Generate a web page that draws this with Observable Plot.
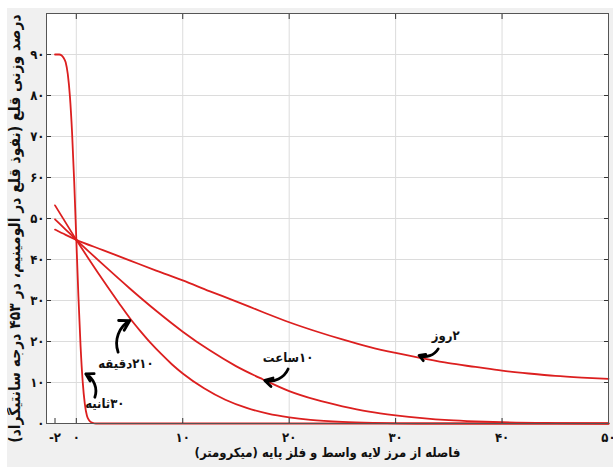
<!DOCTYPE html>
<html><head><meta charset="utf-8">
<script src="https://cdn.jsdelivr.net/npm/d3@7"></script>
<script src="https://cdn.jsdelivr.net/npm/@observablehq/plot@0.6"></script>
<style>
html,body{margin:0;padding:0;background:#fff;}
#chart{position:absolute;left:7px;top:8px;}
#chart svg text{font-stretch:condensed;}
</style></head><body><div id="chart"></div>
<script>
// ---- data ----
const sec30X = [-2, -1.6, -1.4, -1.2, -1.0, -0.8, -0.6, -0.4, -0.2, 0, 0.2, 0.4, 0.6, 0.8, 1.0, 1.2, 1.4, 1.7, 2, 50];
const sec30Y = [90, 90, 89.8, 89.2, 88.1, 85.2, 79.8, 71.1, 59.1, 45, 30.9, 18.9, 10.2, 4.8, 1.9, 0.8, 0.3, 0.05, 0, 0];

const min210X = [-2, -1, 0, 1, 2, 3, 4, 5, 6, 7, 8, 9, 10, 12, 14, 16, 18, 20, 22, 25, 28, 32, 50];
const min210Y = [53.2, 49, 44.8, 40.8, 36.9, 33.1, 29.4, 25.8, 22.6, 19.6, 16.9, 14.4, 12.2, 8.6, 5.8, 3.8, 2.4, 1.5, 0.9, 0.4, 0.15, 0, 0];

const hr10X = [-2, -1, 0, 2.5, 5, 7.5, 10, 12.5, 15, 17.5, 20, 22.5, 25, 27.5, 30, 32.5, 35, 37.5, 40, 45, 50];
const hr10Y = [49.8, 47.3, 44.8, 38.8, 33.0, 27.5, 22.4, 17.9, 14.0, 10.8, 7.9, 5.8, 4.2, 2.9, 2.0, 1.3, 0.8, 0.5, 0.3, 0.1, 0];

const day2X = [-2, -1, 0, 2.5, 5, 7.5, 10, 12.5, 15, 17.5, 20, 22.5, 25, 27.5, 30, 32.5, 35, 37.5, 40, 42.5, 45, 47.5, 50];
const day2Y = [47.3, 46.0, 44.8, 42.3, 39.8, 37.3, 34.9, 32.3, 29.8, 27.2, 24.7, 22.5, 20.5, 18.7, 17.2, 15.9, 14.7, 13.8, 12.9, 12.2, 11.6, 11.2, 10.9];

const xTicks = [-2, 0, 10, 20, 30, 40, 50];
const xTickLabels = ["-۲", "۰", "۱۰", "۲۰", "۳۰", "۴۰", "۵۰"];
const yTicks = [0, 10, 20, 30, 40, 50, 60, 70, 80, 90];
const yTickLabels = ["۰", "۱۰", "۲۰", "۳۰", "۴۰", "۵۰", "۶۰", "۷۰", "۸۰", "۹۰"];

const xTitle = "فاصله از مرز لایه واسط و فلز پایه (میکرومتر)";
const yTitle = "درصد وزنی قلع (نفوذ قلع در آلومینیم، در ۴۵۳ درجه سانتیگراد)";

const annText = ["۲روز", "۱۰ساعت", "۲۱۰دقیقه", "۳۰ثانیه"];
const annX = [34.7, 19.9, 4.66, 2.68];
const annY = [21.5, 15.9, 14.6, 4.9];
const arrX1 = [34.0, 19.9, 3.93, 1.74];
const arrY1 = [18.2, 13.3, 17.4, 6.4];
const arrX2 = [32.2, 17.7, 5.03, 0.89];
const arrY2 = [16.6, 10.5, 25.1, 12.1];
const arrBend = [1, 1, 1, -1];

// ---- build ----
const toRows = (xs, ys) => xs.map((x, i) => ({x, y: ys[i]}));
const series = [toRows(sec30X, sec30Y), toRows(min210X, min210Y), toRows(hr10X, hr10Y), toRows(day2X, day2Y)];
const ann = annText.map((t, i) => ({t, x: annX[i], y: annY[i]}));
const arrows = arrX1.map((x1, i) => ({x1, y1: arrY1[i], x2: arrX2[i], y2: arrY2[i], b: arrBend[i]}));
const red = "#dc1f1f";
const font = "'DejaVu Sans Condensed', 'DejaVu Sans', sans-serif";

const chart = Plot.plot({
  width: 606, height: 459,
  marginLeft: 39, marginRight: 5, marginTop: 5, marginBottom: 44,
  x: {domain: [-2.8, 50]},
  y: {domain: [0, 100]},
  style: {fontFamily: font, fontSize: "13px", fontWeight: "bold", background: "#f0f0f0", color: "#111"},
  marks: [
    Plot.frame({fill: "white", stroke: null}),
    Plot.gridX([0, 10, 20, 30, 40], {stroke: "#dcdcdc", strokeOpacity: 1}),
    Plot.gridY([10, 20, 30, 40, 50, 60, 70, 80, 90], {stroke: "#dcdcdc", strokeOpacity: 1}),
    ...series.map(s => Plot.line(s, {x: "x", y: "y", stroke: red, strokeWidth: 1.8, curve: "monotone-x"})),
    Plot.arrow(arrows.filter(d => d.b > 0), {x1: "x1", y1: "y1", x2: "x2", y2: "y2", bend: 40, stroke: "black", strokeWidth: 2.8, headLength: 8}),
    Plot.arrow(arrows.filter(d => d.b < 0), {x1: "x1", y1: "y1", x2: "x2", y2: "y2", bend: -40, stroke: "black", strokeWidth: 2.8, headLength: 8}),
    Plot.text(ann, {x: "x", y: "y", text: "t", fontSize: 13, fontWeight: "bold", fill: "#111", textAnchor: "middle"}),
    Plot.axisX({anchor: "bottom", ticks: xTicks, tickFormat: d => xTickLabels[xTicks.indexOf(d)], tickSize: -5, tickPadding: 14, label: null, stroke: "#333"}),
    Plot.axisX({anchor: "top", ticks: xTicks.slice(1), tickFormat: () => "", tickSize: -5, label: null, stroke: "#333"}),
    Plot.axisY({anchor: "left", ticks: yTicks, tickFormat: d => yTickLabels[yTicks.indexOf(d)], tickSize: -5, tickPadding: 7, label: null, stroke: "#333"}),
    Plot.axisY({anchor: "right", ticks: yTicks, tickFormat: () => "", tickSize: -5, label: null, stroke: "#333"}),
    Plot.frame({stroke: "#555"}),
    Plot.text([xTitle], {frameAnchor: "bottom", dy: 33, dx: 0, fontSize: 13, fontWeight: "bold", fill: "#111", textAnchor: "middle"}),
    Plot.text([yTitle], {frameAnchor: "left", rotate: -90, dx: -31, dy: 10, fontSize: 15.5, fontWeight: "bold", fill: "#111", textAnchor: "middle"})
  ]
});
d3.select(chart).selectAll('g[aria-label="text"] text').attr("direction", "rtl");
document.getElementById("chart").appendChild(chart);
</script></body></html>
